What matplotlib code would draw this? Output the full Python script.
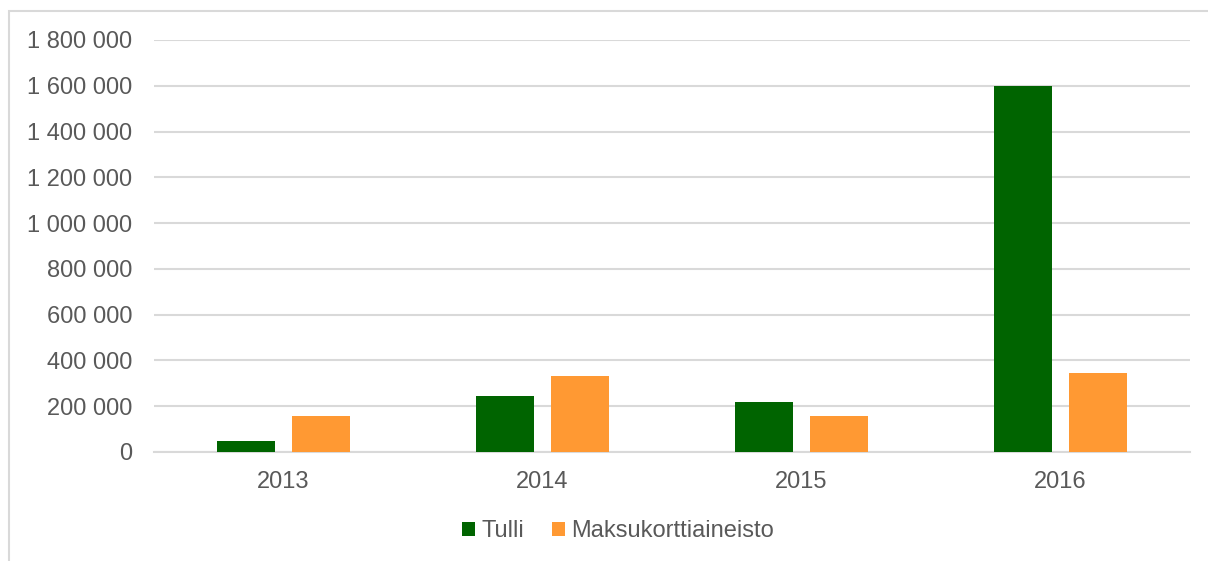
import numpy as np
import matplotlib.pyplot as plt
from matplotlib.patches import Rectangle
from matplotlib.ticker import FuncFormatter

plt.rcParams["font.family"] = ["Liberation Sans", "DejaVu Sans"]

# Chart data
years = ["2013", "2014", "2015", "2016"]
tulli = [47000, 244000, 218000, 1600000]
maksukortti = [159000, 332000, 156000, 345000]
series_names = ["Tulli", "Maksukorttiaineisto"]
y_ticks = [0, 200000, 400000, 600000, 800000, 1000000, 1200000, 1400000, 1600000, 1800000]

GREEN = "#006400"
ORANGE = "#FF9933"
TEXT = "#595959"
GRID = "#D9D9D9"

W, H = 1208, 561
fig = plt.figure(figsize=(W / 100, H / 100), dpi=100)

# Outer chart border (left and top edges visible)
fig.patches.append(
    Rectangle((9 / W, -0.1), 1.2, (H - 11) / H + 0.1, transform=fig.transFigure,
              fill=False, edgecolor=GRID, linewidth=1.5)
)

ax = fig.add_axes([154 / W, (H - 452) / H, (1190 - 154) / W, 412 / H])

x = np.arange(len(years))
bar_w = 0.224
offset = 0.143
ax.bar(x - offset, tulli, bar_w, color=GREEN, label=series_names[0], zorder=3)
ax.bar(x + offset, maksukortti, bar_w, color=ORANGE, label=series_names[1], zorder=3)

ax.set_xlim(-0.5, len(years) - 0.5)
ax.set_ylim(0, 1800000)
ax.set_yticks(y_ticks)
ax.yaxis.set_major_formatter(FuncFormatter(lambda v, p: f"{int(v):,}".replace(",", " ")))
ax.set_xticks(x)
ax.set_xticklabels(years)

ax.grid(axis="y", color=GRID, linewidth=1.5, zorder=0)
ax.set_axisbelow(True)
for s in ["top", "right", "left"]:
    ax.spines[s].set_visible(False)
ax.spines["bottom"].set_color(GRID)
ax.spines["bottom"].set_linewidth(1.5)

ax.tick_params(axis="both", length=0, labelsize=17, labelcolor=TEXT)
ax.tick_params(axis="y", pad=15.5)
ax.tick_params(axis="x", pad=14)

ax.legend(loc="center", bbox_to_anchor=(618 / W, (H - 531) / H),
          bbox_transform=fig.transFigure, ncol=2, frameon=False,
          fontsize=17, labelcolor=TEXT, handlelength=0.55, handleheight=0.55,
          handletextpad=0.25, columnspacing=1.2)

fig.savefig("out.png", dpi=100)
